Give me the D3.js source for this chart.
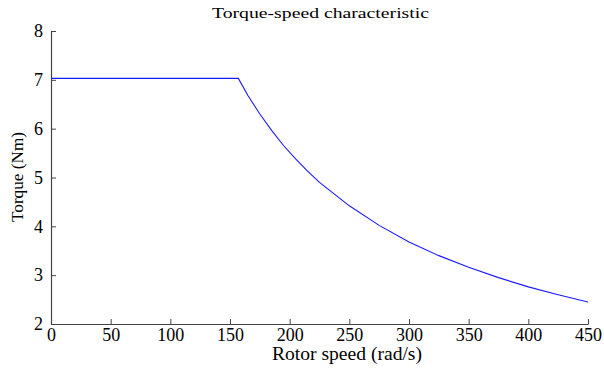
<!DOCTYPE html>
<html>
<head>
<meta charset="utf-8">
<script src="https://cdn.jsdelivr.net/npm/d3@7"></script>
<style>
body { margin: 0; background: #fff; }
svg text { font-family: "Liberation Serif", "Times New Roman", serif !important; fill: #000; }
</style>
</head>
<body>
<div id="chart"></div>
<script>
// values
var speed  = [0, 157, 165, 175, 185, 195, 205, 215, 225, 250, 275, 300, 325, 350, 375, 400, 425, 450];
var torque = [7.03, 7.03, 6.68, 6.3, 5.96, 5.65, 5.38, 5.13, 4.9, 4.42, 4.02, 3.68, 3.4, 3.16, 2.95, 2.76, 2.6, 2.45];
var xTicks = [0, 50, 100, 150, 200, 250, 300, 350, 400, 450];
var yTicks = [2, 3, 4, 5, 6, 7, 8];

var W = 604, H = 369;
var margin = { top: 31, right: 16, bottom: 45, left: 51 };
var width = W - margin.left - margin.right,
    height = H - margin.top - margin.bottom;

var svg = d3.select("#chart").append("svg")
    .attr("width", W)
    .attr("height", H);

var g = svg.append("g")
    .attr("transform", "translate(" + margin.left + "," + margin.top + ")");

var x = d3.scaleLinear().domain([0, 450]).range([0, width]);
var y = d3.scaleLinear().domain([2, 8]).range([height, 0]);

var xaxis = d3.axisBottom(x).tickValues(xTicks).tickFormat(d3.format("d"))
    .tickSizeInner(-5).tickSizeOuter(0).tickPadding(4);
var yaxis = d3.axisLeft(y).tickValues(yTicks).tickFormat(d3.format("d"))
    .tickSizeInner(-5).tickSizeOuter(0).tickPadding(8);

var gx = g.append("g")
    .attr("transform", "translate(0," + height + ")")
    .call(xaxis);
var gy = g.append("g").call(yaxis);

[gx, gy].forEach(function (a) {
    a.attr("font-family", "Liberation Serif").attr("font-size", 18);
    a.select(".domain").attr("stroke", "#444").attr("stroke-width", 1.2);
    a.selectAll(".tick line").attr("stroke", "#444");
    a.selectAll(".tick text").attr("fill", "#000");
});

var line = d3.line()
    .x(function (d, i) { return x(speed[i]); })
    .y(function (d) { return y(d); });

g.append("path")
    .datum(torque)
    .attr("fill", "none")
    .attr("stroke", "#1a1aff")
    .attr("stroke-width", 1.1)
    .attr("d", line);

// title and axis labels (reference text is a little stretched sideways)
svg.append("text")
    .attr("x", 212)
    .attr("y", 18)
    .attr("textLength", 217)
    .attr("lengthAdjust", "spacingAndGlyphs")
    .style("font-size", "15px")
    .text("Torque-speed characteristic");

svg.append("text")
    .attr("x", 272)
    .attr("y", 360)
    .attr("textLength", 150)
    .attr("lengthAdjust", "spacingAndGlyphs")
    .style("font-size", "18px")
    .text("Rotor speed (rad/s)");

svg.append("text")
    .attr("transform", "translate(23,222) rotate(-90)")
    .attr("textLength", 90)
    .attr("lengthAdjust", "spacingAndGlyphs")
    .style("font-size", "17px")
    .text("Torque (Nm)");
</script>
</body>
</html>
